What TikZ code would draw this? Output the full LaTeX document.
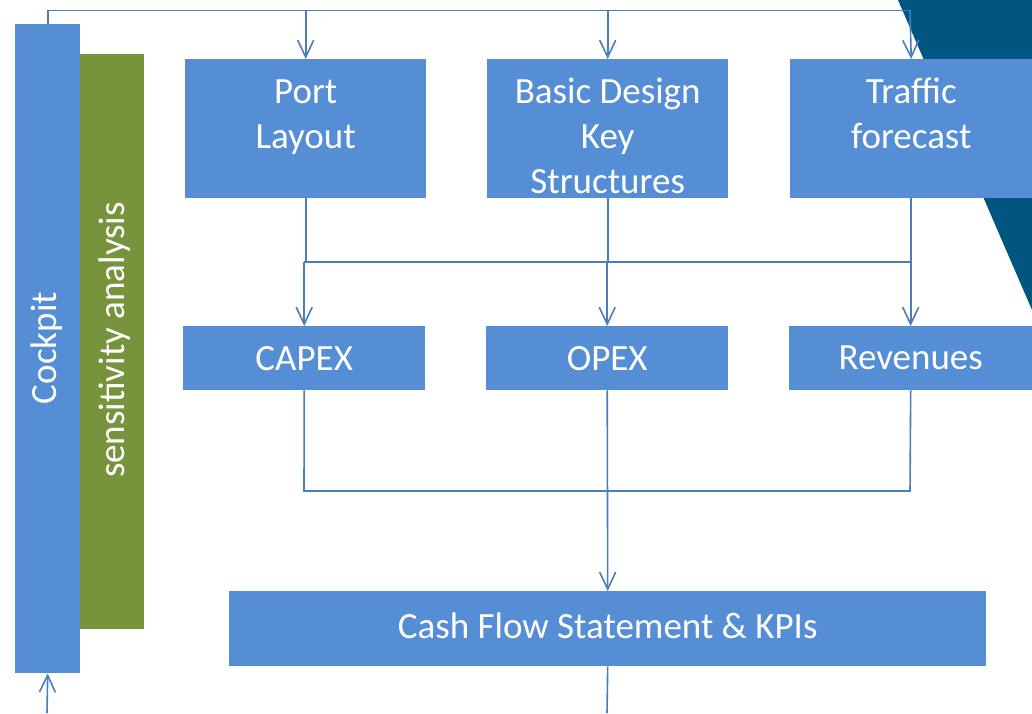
\documentclass[tikz,border=0pt]{standalone}
\usepackage{fontspec}
\setmainfont{Carlito}
\usetikzlibrary{arrows.meta}
\definecolor{boxblue}{RGB}{85,142,213}
\definecolor{boxgreen}{RGB}{119,147,60}
\definecolor{darktri}{RGB}{0,86,128}
\definecolor{linecol}{RGB}{74,126,187}
\begin{document}
\begin{tikzpicture}[x=1pt,y=-1pt,
  box/.style={fill=boxblue, draw=none, inner sep=0pt, anchor=north west},
  txt/.style={text=white, font=\fontsize{37}{45}\selectfont, align=center, inner sep=0pt},
  conn/.style={draw=linecol, line width=1.6pt},
  arr/.style={conn, -{Straight Barb[length=17pt,width=16pt,line width=1.6pt]}}]
\useasboundingbox (0,0) rectangle (1032,713);
% background triangle
\fill[darktri] (898,0) -- (1032,0) -- (1032,310) -- cycle;
% side bars
\node[box, fill=boxgreen, minimum width=64pt, minimum height=575pt] (sens) at (80,54) {};
\node[box, minimum width=65pt, minimum height=649pt] (cockpit) at (15,24) {};
\node[txt, rotate=90] (cockpitT) at (47,348) {Cockpit};
\node[txt, rotate=90] (sensT) at (115,340) {sensitivity analysis};
% top row
\node[box, minimum width=241pt, minimum height=139pt] (port) at (185,59) {};
\node[box, minimum width=241pt, minimum height=139pt] (basic) at (487,59) {};
\node[box, minimum width=242pt, minimum height=139pt] (traffic) at (790,59) {};
\node[txt, anchor=north] (portT) at ([yshift=-13pt]port.north) {\strut Port\\Layout};
\node[txt, anchor=north] (basicT) at ([yshift=-13pt]basic.north) {\strut Basic Design\\Key\\Structures};
\node[txt, anchor=north] (trafficT) at ([yshift=-13pt]traffic.north) {\strut Traffic\\forecast};
% second row
\node[box, minimum width=242pt, minimum height=64pt] (capex) at (183,326) {};
\node[box, minimum width=242pt, minimum height=64pt] (opex) at (486,326) {};
\node[box, minimum width=243pt, minimum height=64pt] (rev) at (789,326) {};
\node[txt] (capexT) at (capex.center) {CAPEX};
\node[txt] (opexT) at (opex.center) {OPEX};
\node[txt] (revT) at (rev.center) {Revenues};
% cash flow
\node[box, minimum width=757pt, minimum height=75pt] (cash) at (229,591) {};
\node[txt] (cashT) at ([yshift=3pt]cash.center) {Cash Flow Statement \& KPIs};
% connectors
\coordinate (topR) at (910,10.5);
\coordinate (midL) at (304,262);
\coordinate (midR) at (910,262);
\coordinate (lowL) at (304,491);
\coordinate (lowR) at (910,491);
\coordinate (botC) at (47,713);
\coordinate (botCash) at (607,713);
\draw[conn] (cockpit.north) |- (topR);
\draw[arr] (port.north |- topR) -- (port.north);
\draw[arr] (basic.north |- topR) -- (basic.north);
\draw[arr] (topR) -- (traffic.north);
\draw[conn] (port.south) -- (port.south |- midL);
\draw[conn] (basic.south) -- (basic.south |- midL);
\draw[conn] (traffic.south) -- (traffic.south |- midR);
\draw[conn] (midL) -- (midR);
\draw[arr] (capex.north |- midL) -- (capex.north);
\draw[arr] (opex.north |- midL) -- (opex.north);
\draw[arr] (rev.north |- midR) -- (rev.north);
\draw[conn] (capex.south) -- (lowL) -- (lowR) -- (rev.south);
\draw[arr] (opex.south) -- (cash.north);
\draw[conn] (cash.south) -- (botCash);
\draw[arr] (botC) -- (cockpit.south);
\end{tikzpicture}
\end{document}
